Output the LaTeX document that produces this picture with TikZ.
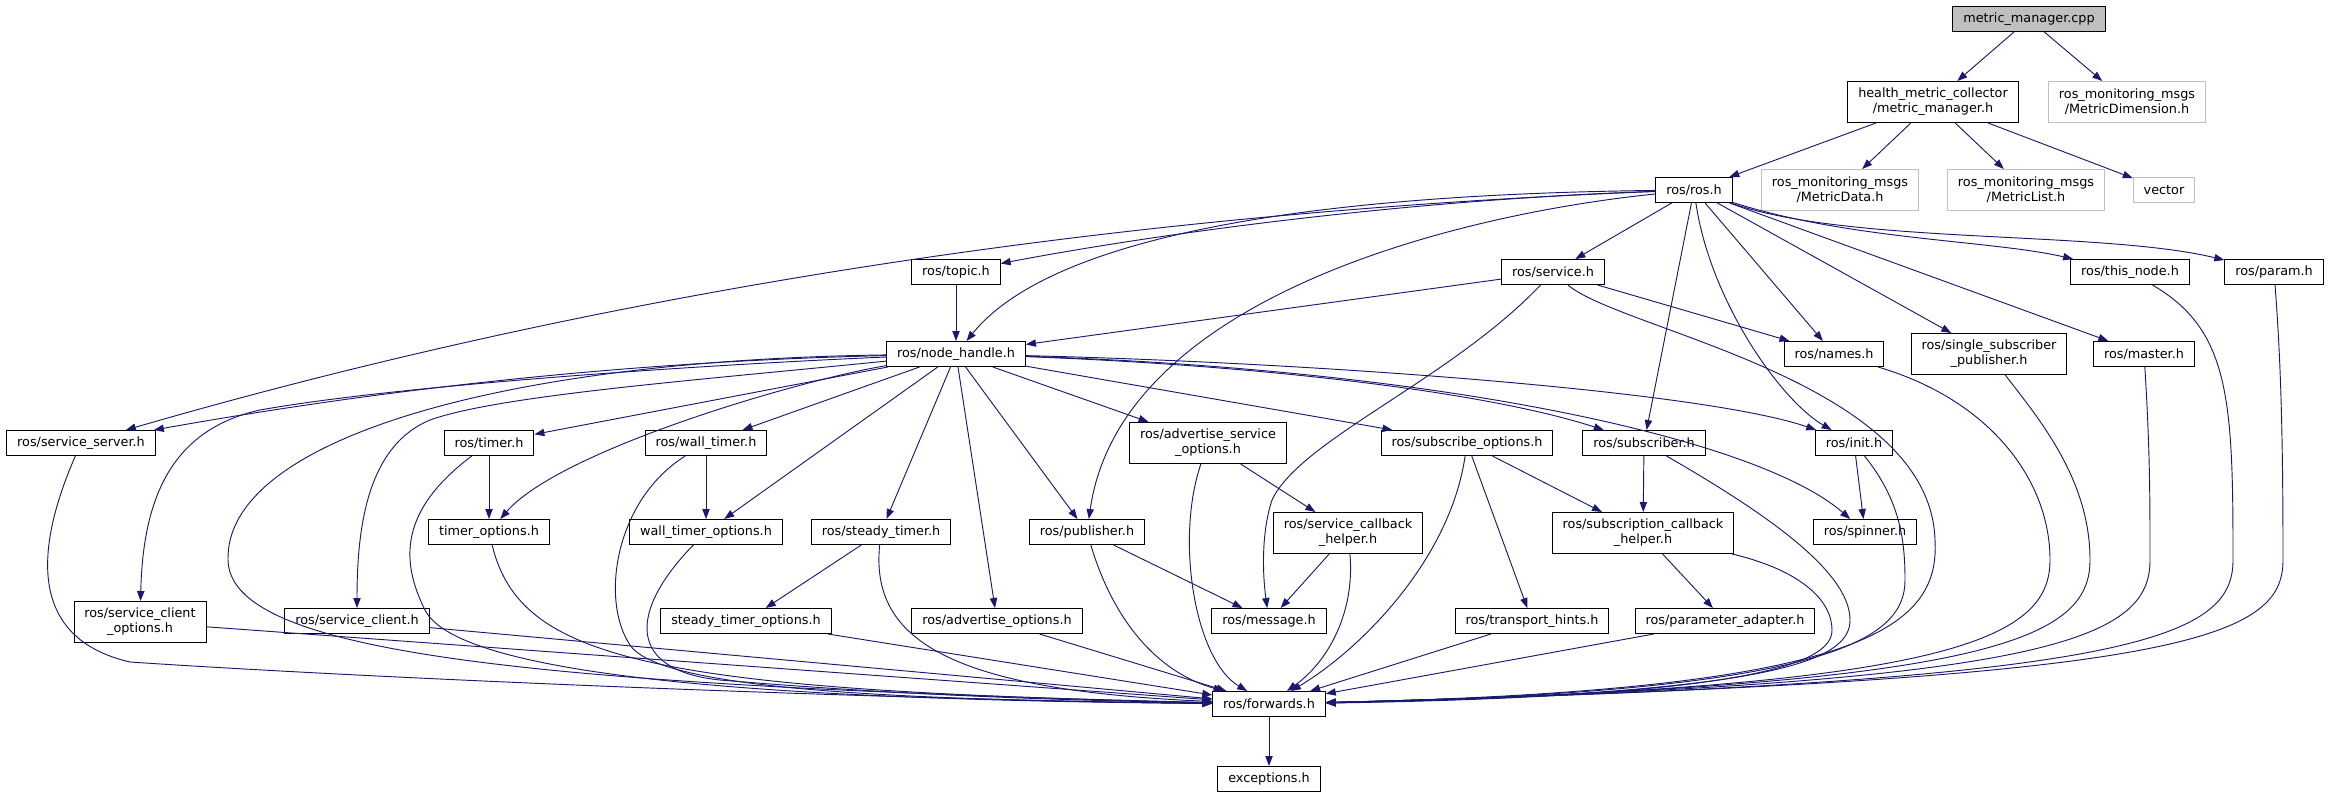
\documentclass[tikz,border=0pt]{standalone}
\usepackage{fontspec}
\setmainfont{DejaVu Sans}
\usetikzlibrary{arrows.meta}
\definecolor{edgeblue}{HTML}{191970}
\definecolor{extgray}{HTML}{BFBFBF}

\begin{document}
\begin{tikzpicture}[x=0.75pt,y=-0.75pt,
  hfile/.style={draw=black,line width=0.75pt,fill=white,inner xsep=7.8pt,inner ysep=0pt,minimum height=18.75pt,align=center,font=\fontsize{9.6}{11.25}\selectfont},
  twoline/.style={minimum height=30.75pt},
  extfile/.style={hfile,draw=extgray},
  srcfile/.style={hfile,fill=extgray},
  inc/.style={draw=edgeblue,line width=0.7pt,-{Triangle[length=7.5pt,width=5.5pt]}}]
\useasboundingbox (0,0) rectangle (2330,797);
%files
        \node[srcfile] (cpp) at (2029,19) {metric\_manager.cpp};
        \node[hfile,twoline] (health) at (1933,102) {health\_metric\_collector\\/metric\_manager.h};
        \node[extfile,twoline] (dim) at (2127,102) {ros\_monitoring\_msgs\\/MetricDimension.h};
        \node[hfile] (ros) at (1694,190) {ros/ros.h};
        \node[extfile,twoline] (data) at (1840,190) {ros\_monitoring\_msgs\\/MetricData.h};
        \node[extfile,twoline] (list) at (2026,190) {ros\_monitoring\_msgs\\/MetricList.h};
        \node[extfile] (vector) at (2164,190) {vector};

        \node[hfile] (topic) at (956,272) {ros/topic.h};
        \node[hfile] (service) at (1553,272) {ros/service.h};
        \node[hfile] (thisnode) at (2130,272) {ros/this\_node.h};
        \node[hfile] (param) at (2274,272) {ros/param.h};

        \node[hfile] (nh) at (956,354) {ros/node\_handle.h};
        \node[hfile] (names) at (1834,354) {ros/names.h};
        \node[hfile,twoline] (ssp) at (1989,354) {ros/single\_subscriber\\\_publisher.h};
        \node[hfile] (master) at (2144,354) {ros/master.h};

        \node[hfile] (srvserver) at (81,443) {ros/service\_server.h};
        \node[hfile] (timer) at (489,443) {ros/timer.h};
        \node[hfile] (walltimer) at (706,443) {ros/wall\_timer.h};
        \node[hfile,twoline] (advsrvopt) at (1208,443) {ros/advertise\_service\\\_options.h};
        \node[hfile] (subopt) at (1467,443) {ros/subscribe\_options.h};
        \node[hfile] (subscriber) at (1644,443) {ros/subscriber.h};
        \node[hfile] (init) at (1854,443) {ros/init.h};

        \node[hfile] (timeropt) at (489,532) {timer\_options.h};
        \node[hfile] (walltimeropt) at (706,532) {wall\_timer\_options.h};
        \node[hfile] (steady) at (881,532) {ros/steady\_timer.h};
        \node[hfile] (publisher) at (1087,532) {ros/publisher.h};
        \node[hfile,twoline] (srvcb) at (1348,533) {ros/service\_callback\\\_helper.h};
        \node[hfile,twoline] (subcb) at (1643,533) {ros/subscription\_callback\\\_helper.h};
        \node[hfile] (spinner) at (1865,532) {ros/spinner.h};

        \node[hfile,twoline] (srvclientopt) at (140,622) {ros/service\_client\\\_options.h};
        \node[hfile] (srvclient) at (357,621) {ros/service\_client.h};
        \node[hfile] (steadyopt) at (746,621) {steady\_timer\_options.h};
        \node[hfile] (advopt) at (997,621) {ros/advertise\_options.h};
        \node[hfile] (message) at (1269,621) {ros/message.h};
        \node[hfile] (transport) at (1532,621) {ros/transport\_hints.h};
        \node[hfile] (paramadapt) at (1725,621) {ros/parameter\_adapter.h};

        \node[hfile] (forwards) at (1269,704) {ros/forwards.h};
        \node[hfile] (exceptions) at (1269,779) {exceptions.h};

%top
        \draw[inc] (cpp) -- (health);
        \draw[inc] (cpp) -- (dim);
        \draw[inc] (health) -- (ros);
        \draw[inc] (health) -- (data);
        \draw[inc] (health) -- (list);
        \draw[inc] (health) -- (vector);

%ros.h
        \draw[inc] (ros) .. controls (1155,211) and (640,281) .. (srvserver);
        \draw[inc] (ros) .. controls (1400,200) and (1150,235) .. (topic);
        \draw[inc] (ros) .. controls (1250,195) and (1040,250) .. (nh);
        \draw[inc] (ros) .. controls (1450,215) and (1120,300) .. (publisher);
        \draw[inc] (ros) -- (service);
        \draw[inc] (ros) -- (subscriber);
        \draw[inc] (ros) .. controls (1710,300) and (1780,400) .. (init);
        \draw[inc] (ros) -- (names);
        \draw[inc] (ros) -- (ssp);
        \draw[inc] (ros) -- (master);
        \draw[inc] (ros) .. controls (1850,240) and (1990,240) .. (thisnode);
        \draw[inc] (ros) .. controls (1850,245) and (2100,230) .. (param);

%node_handle.h
        \draw[inc] (topic) -- (nh);
        \draw[inc] (nh) .. controls (600,362) and (350,395) .. (srvserver);
        \draw[inc] (nh) .. controls (700,365) and (400,385) .. (260,410) .. controls (170,430) and (143,500) .. (srvclientopt);
        \draw[inc] (nh) .. controls (500,360) and (225,440) .. (228,560) .. controls (230,650) and (500,685) .. (forwards);
        \draw[inc] (nh) .. controls (700,380) and (500,395) .. (430,420) .. controls (370,445) and (357,520) .. (srvclient);
        \draw[inc] (nh) -- (timer);
        \draw[inc] (nh) .. controls (800,380) and (560,450) .. (timeropt);
        \draw[inc] (nh) -- (walltimer);
        \draw[inc] (nh) -- (walltimeropt);
        \draw[inc] (nh) -- (steady);
        \draw[inc] (nh) -- (advopt);
        \draw[inc] (nh) -- (publisher);
        \draw[inc] (nh) -- (advsrvopt);
        \draw[inc] (nh) -- (subopt);
        \draw[inc] (nh) .. controls (1250,365) and (1480,390) .. (subscriber);
        \draw[inc] (nh) .. controls (1300,362) and (1700,390) .. (init);
        \draw[inc] (nh) .. controls (1450,370) and (1760,440) .. (spinner);

%service.h
        \draw[inc] (service) -- (nh);
        \draw[inc] (service) -- (names);
        \draw[inc] (service) .. controls (1450,380) and (1300,440) .. (1272,500) .. controls (1262,530) and (1262,570) .. (message);
        \draw[inc] (service) .. controls (1620,330) and (1930,380) .. (1935,540) .. controls (1940,630) and (1860,690) .. (forwards);

%into forwards, right
        \draw[inc] (names) .. controls (1990,400) and (2050,480) .. (2050,560) .. controls (2050,640) and (1950,688) .. (forwards);
        \draw[inc] (ssp) .. controls (2040,420) and (2090,480) .. (2090,560) .. controls (2090,640) and (1990,686) .. (forwards);
        \draw[inc] (master) .. controls (2150,450) and (2150,500) .. (2150,560) .. controls (2150,640) and (2050,684) .. (forwards);
        \draw[inc] (thisnode) .. controls (2230,330) and (2233,400) .. (2233,560) .. controls (2233,640) and (2130,682) .. (forwards);
        \draw[inc] (param) .. controls (2280,350) and (2283,420) .. (2283,560) .. controls (2283,640) and (2180,680) .. (forwards);
        \draw[inc] (init) .. controls (1900,500) and (1905,540) .. (1905,580) .. controls (1905,640) and (1830,692) .. (forwards);
        \draw[inc] (subscriber) .. controls (1760,510) and (1850,570) .. (1850,620) .. controls (1850,660) and (1780,694) .. (forwards);
        \draw[inc] (subcb) .. controls (1800,570) and (1832,600) .. (1832,630) .. controls (1832,660) and (1770,696) .. (forwards);
        \draw[inc] (paramadapt) -- (forwards);
        \draw[inc] (transport) -- (forwards);
        \draw[inc] (subopt) .. controls (1450,560) and (1360,650) .. (forwards);
        \draw[inc] (srvcb) .. controls (1355,610) and (1330,660) .. (forwards);
        \draw[inc] (advsrvopt) .. controls (1175,540) and (1195,660) .. (forwards);
        \draw[inc] (publisher) .. controls (1110,610) and (1150,670) .. (forwards);
        \draw[inc] (advopt) -- (forwards);

%into forwards, left
        \draw[inc] (steady) .. controls (870,640) and (950,690) .. (forwards);
        \draw[inc] (steadyopt) -- (forwards);
        \draw[inc] (walltimeropt) .. controls (630,610) and (625,670) .. (720,680) .. controls (900,695) and (1050,700) .. (forwards);
        \draw[inc] (walltimer) .. controls (615,500) and (600,600) .. (630,645) .. controls (660,690) and (900,700) .. (forwards);
        \draw[inc] (timeropt) .. controls (520,660) and (650,690) .. (forwards);
        \draw[inc] (timer) .. controls (400,510) and (400,560) .. (425,610) .. controls (460,680) and (800,700) .. (forwards);
        \draw[inc] (srvclient) -- (forwards);
        \draw[inc] (srvclientopt) -- (forwards);
        \draw[inc] (srvserver) .. controls (30,560) and (35,640) .. (130,662) .. controls (400,680) and (900,700) .. (forwards);

%rest
        \draw[inc] (timer) -- (timeropt);
        \draw[inc] (walltimer) -- (walltimeropt);
        \draw[inc] (steady) -- (steadyopt);
        \draw[inc] (publisher) -- (message);
        \draw[inc] (advsrvopt) -- (srvcb);
        \draw[inc] (srvcb) -- (message);
        \draw[inc] (subopt) -- (subcb);
        \draw[inc] (subopt) -- (transport);
        \draw[inc] (subscriber) -- (subcb);
        \draw[inc] (subcb) -- (paramadapt);
        \draw[inc] (init) -- (spinner);
        \draw[inc] (forwards) -- (exceptions);
\end{tikzpicture}
\end{document}
